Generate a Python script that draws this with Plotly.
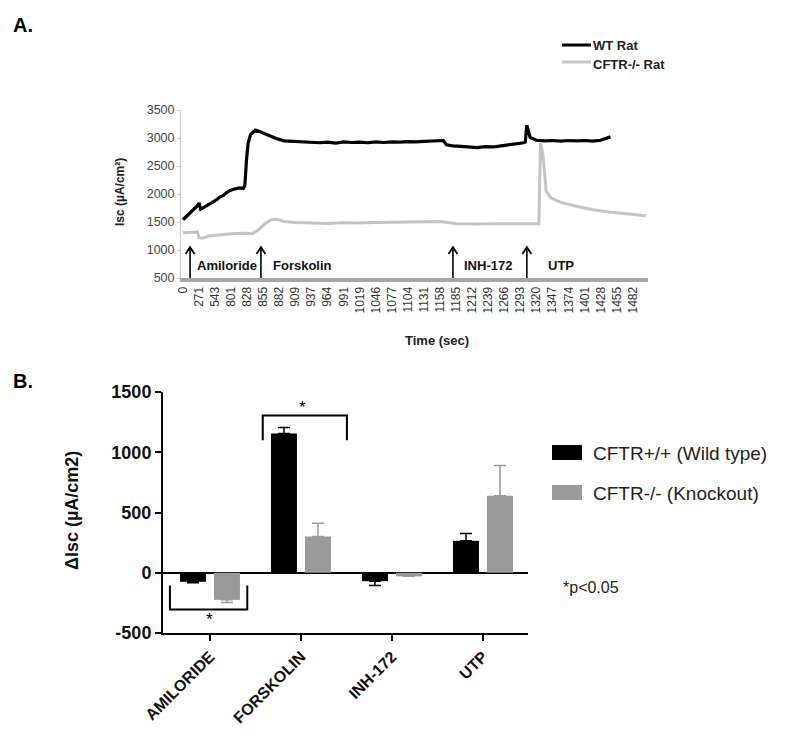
import plotly.graph_objects as go

# ---------------- Panel A data ----------------
time_labels = ["0", "271", "543", "801", "828", "855", "882", "909", "937", "964", "991",
               "1019", "1046", "1077", "1104", "1131", "1158", "1185", "1212", "1239",
               "1266", "1293", "1320", "1347", "1374", "1401", "1428", "1455", "1482"]

# sample position (index along the category axis) and Isc values
wt_idx = [0, 0.3, 0.6, 0.9, 1.0, 1.1, 1.3, 1.6, 1.8, 2.1, 2.3, 2.5, 2.7, 2.9, 3.1, 3.3, 3.5,
          3.75, 3.85, 3.95, 4.05, 4.2, 4.5, 4.8, 5.3, 5.8, 6.3, 7, 7.5, 8, 8.5, 9, 9.5, 10,
          10.5, 11, 11.5, 12, 12.5, 13, 13.5, 14, 14.5, 15, 15.6, 16.2, 16.4, 16.8, 17.3,
          17.8, 18.3, 18.8, 19.3, 19.8, 20.3, 20.8, 21.2, 21.3, 21.4, 21.6, 22, 22.5, 23,
          23.5, 24, 24.5, 25, 25.5, 26, 26.3, 26.6]
wt_isc = [1540, 1620, 1700, 1790, 1840, 1730, 1760, 1810, 1850, 1900, 1950, 1970, 2020,
          2060, 2080, 2100, 2110, 2100, 2150, 2600, 2900, 3060, 3140, 3110, 3050, 2990, 2950,
          2940, 2925, 2930, 2915, 2925, 2910, 2930, 2920, 2925, 2915, 2930, 2920, 2930, 2925,
          2935, 2930, 2940, 2945, 2955, 2880, 2860, 2850, 2840, 2830, 2845, 2840, 2860, 2875,
          2900, 2915, 2925, 3230, 3010, 2960, 2950, 2955, 2945, 2955, 2950, 2955, 2945, 2960,
          2990, 3020]

ko_idx = [0, 0.9, 1.0, 1.2, 1.6, 2.2, 3.0, 3.8, 4.3, 4.7, 5.1, 5.5, 5.8, 6.3, 7, 8, 9, 10,
          11, 12, 13, 14, 15, 16, 16.5, 17, 18, 19, 20, 21, 22.15, 22.25, 22.4, 22.6, 22.9,
          23.5, 24.5, 25.5, 26.5, 27.5, 28.8]
ko_isc = [1310, 1320, 1220, 1210, 1250, 1270, 1290, 1300, 1290, 1360, 1470, 1540, 1550, 1510,
          1490, 1480, 1475, 1485, 1480, 1490, 1495, 1500, 1505, 1510, 1490, 1470, 1465, 1470,
          1468, 1470, 1470, 2910, 2700, 2050, 1930, 1850, 1780, 1720, 1680, 1650, 1610]

events = ["Amiloride", "Forskolin", "INH-172", "UTP"]
event_idx = [0.44, 4.85, 16.8, 21.4]
event_label_idx = [0.72, 5.45, 17.35, 22.6]

# ---------------- Panel B data ----------------
treatments = ["AMILORIDE", "FORSKOLIN", "INH-172", "UTP"]
wt_delta = [-75, 1155, -70, 265]
wt_err = [8, 50, 35, 60]
ko_delta = [-225, 300, -30, 640]
ko_err = [22, 110, 0, 250]
b_ticks = [-500, 0, 500, 1000, 1500]

FONT = "Arial, Liberation Sans, sans-serif"
W, H = 800, 744
OFF = 8  # page body margin in the browser


def px(x):
    return (x - OFF) / W


def py(y):
    return 1 - (y - OFF) / H


fig = go.Figure()

# Panel A traces
fig.add_trace(go.Scatter(x=ko_idx, y=ko_isc, mode="lines", line=dict(color="#c4c4c4", width=3),
                         xaxis="x", yaxis="y", showlegend=False, name="CFTR-/- Rat"))
fig.add_trace(go.Scatter(x=wt_idx, y=wt_isc, mode="lines", line=dict(color="#000000", width=3.2),
                         xaxis="x", yaxis="y", showlegend=False, name="WT Rat"))


def split_err(vals, errs):
    plus = [e if v >= 0 else 0 for v, e in zip(vals, errs)]
    minus = [e if v < 0 else 0 for v, e in zip(vals, errs)]
    return plus, minus


wp, wm = split_err(wt_delta, wt_err)
kp, km = split_err(ko_delta, ko_err)
fig.add_trace(go.Bar(x=treatments, y=wt_delta, marker=dict(color="#000000", line=dict(width=0)),
                     error_y=dict(type="data", array=wp, arrayminus=wm, symmetric=False,
                                  color="#000000", thickness=1.5, width=6),
                     xaxis="x2", yaxis="y2", showlegend=False, name="CFTR+/+ (Wild type)"))
fig.add_trace(go.Bar(x=treatments, y=ko_delta, marker=dict(color="#9a9a9a", line=dict(width=0)),
                     error_y=dict(type="data", array=kp, arrayminus=km, symmetric=False,
                                  color="#9a9a9a", thickness=1.5, width=6),
                     xaxis="x2", yaxis="y2", showlegend=False, name="CFTR-/- (Knockout)"))

annotations = []
shapes = []

# Panel A arrows (shaft + open chevron head) and labels
for name, xi, xl in zip(events, event_idx, event_label_idx):
    shapes.append(dict(type="line", xref="x", yref="y", x0=xi, x1=xi, y0=500, y1=1045,
                       line=dict(color="#000", width=1.6)))
    shapes.append(dict(type="path", xref="x", yref="y",
                       path="M %.3f,930 L %.3f,1050 L %.3f,930" % (xi - 0.28, xi, xi + 0.28),
                       line=dict(color="#000", width=1.8)))
    annotations.append(dict(x=xl, y=730, xref="x", yref="y", text="<b>%s</b>" % name,
                            showarrow=False, xanchor="left", yanchor="middle",
                            font=dict(family=FONT, size=13, color="#111111")))

annotations += [
    dict(x=px(11), y=py(25), xref="paper", yref="paper", text="<b>A.</b>", showarrow=False,
         xanchor="left", yanchor="middle", font=dict(family=FONT, size=20, color="#000")),
    dict(x=px(11), y=py(381), xref="paper", yref="paper", text="<b>B.</b>", showarrow=False,
         xanchor="left", yanchor="middle", font=dict(family=FONT, size=20, color="#000")),
    dict(x=px(120), y=py(192), xref="paper", yref="paper", text="<b>Isc (µA/cm²)</b>",
         showarrow=False, textangle=-90, xanchor="center", yanchor="middle",
         font=dict(family=FONT, size=12, color="#222")),
    dict(x=px(437), y=py(340), xref="paper", yref="paper", text="<b>Time (sec)</b>",
         showarrow=False, xanchor="center", yanchor="middle",
         font=dict(family=FONT, size=13, color="#222")),
    dict(x=px(72), y=py(511), xref="paper", yref="paper", text="<b>ΔIsc (µA/cm2)</b>",
         showarrow=False, textangle=-90, xanchor="center", yanchor="middle",
         font=dict(family=FONT, size=18, color="#111")),
]

# Panel A legend
shapes += [
    dict(type="line", xref="paper", yref="paper", x0=px(562), x1=px(591), y0=py(45), y1=py(45),
         line=dict(color="#000", width=3)),
    dict(type="line", xref="paper", yref="paper", x0=px(562), x1=px(591), y0=py(62), y1=py(62),
         line=dict(color="#c4c4c4", width=3)),
]
annotations += [
    dict(x=px(591), y=py(46), xref="paper", yref="paper", text="<b>WT Rat</b>", showarrow=False,
         xanchor="left", yanchor="middle", font=dict(family=FONT, size=13, color="#222")),
    dict(x=px(591), y=py(64), xref="paper", yref="paper", text="<b>CFTR-/- Rat</b>", showarrow=False,
         xanchor="left", yanchor="middle", font=dict(family=FONT, size=13, color="#222")),
]

# Panel B legend
shapes += [
    dict(type="rect", xref="paper", yref="paper", x0=px(552), x1=px(582), y0=py(460), y1=py(445),
         fillcolor="#000", line=dict(width=0)),
    dict(type="rect", xref="paper", yref="paper", x0=px(552), x1=px(582), y0=py(500), y1=py(485),
         fillcolor="#9a9a9a", line=dict(width=0)),
]
annotations += [
    dict(x=px(591), y=py(453), xref="paper", yref="paper", text="CFTR+/+ (Wild type)", showarrow=False,
         xanchor="left", yanchor="middle", font=dict(family=FONT, size=19, color="#222")),
    dict(x=px(591), y=py(493), xref="paper", yref="paper", text="CFTR-/- (Knockout)", showarrow=False,
         xanchor="left", yanchor="middle", font=dict(family=FONT, size=19, color="#222")),
    dict(x=px(561), y=py(587), xref="paper", yref="paper", text="*p<0.05", showarrow=False,
         xanchor="left", yanchor="middle", font=dict(family=FONT, size=16, color="#222")),
]

# Significance brackets (panel B, category-index coordinates)
shapes += [
    dict(type="path", xref="x2", yref="y2", path="M -0.44,-105 L -0.44,-305 L 0.41,-305 L 0.41,-105",
         line=dict(color="#000", width=2)),
    dict(type="path", xref="x2", yref="y2", path="M 0.58,1100 L 0.58,1305 L 1.505,1305 L 1.505,1100",
         line=dict(color="#000", width=2)),
]
annotations += [
    dict(x=0.0, y=-390, xref="x2", yref="y2", text="*", showarrow=False,
         font=dict(family=FONT, size=17, color="#000")),
    dict(x=1.02, y=1370, xref="x2", yref="y2", text="*", showarrow=False,
         font=dict(family=FONT, size=17, color="#000")),
]

fig.update_layout(
    template="none",
    width=W, height=H, margin=dict(l=0, r=0, t=0, b=0, pad=0, autoexpand=False),
    paper_bgcolor="white", plot_bgcolor="white",
    font=dict(family=FONT),
    barmode="group", bargap=0.253, bargroupgap=0.235,
    xaxis=dict(domain=[px(181), px(648)], range=[-0.124, 28.94], anchor="y", automargin=False,
               tickmode="array", tickvals=list(range(len(time_labels))), ticktext=time_labels,
               tickangle=-90, tickfont=dict(family=FONT, size=12, color="#333"),
               showline=True, linecolor="#a6a6a6", linewidth=4, ticks="", showgrid=False,
               zeroline=False),
    yaxis=dict(domain=[py(278), py(110)], range=[500, 3500], anchor="x", automargin=False,
               tickvals=[500, 1000, 1500, 2000, 2500, 3000, 3500],
               tickfont=dict(family=FONT, size=12.5, color="#444"),
               showline=True, linecolor="#c8c8c8", linewidth=1, ticks="outside", ticklen=3,
               tickcolor="#c8c8c8", showgrid=False, zeroline=False),
    xaxis2=dict(domain=[px(163), px(528)], range=[-0.516, 3.495], anchor="y2", automargin=False,
                type="category", tickangle=-45, tickmode="array", tickvals=treatments,
                ticktext=["<b>%s</b>" % t for t in treatments],
                tickfont=dict(family=FONT, size=16, color="#111"),
                showline=True, linecolor="#000", linewidth=2, ticks="outside", ticklen=6,
                tickwidth=2, tickcolor="#000", showgrid=False, zeroline=False),
    yaxis2=dict(domain=[py(633), py(392)], range=[-500, 1500], anchor="x2", automargin=False,
                tickmode="array", tickvals=b_ticks, ticktext=["<b>%d</b>" % v for v in b_ticks],
                tickfont=dict(family=FONT, size=18, color="#111"),
                showline=True, linecolor="#000", linewidth=2, ticks="outside", ticklen=6,
                tickwidth=2, tickcolor="#000", showgrid=False,
                zeroline=True, zerolinecolor="#000", zerolinewidth=2),
    annotations=annotations, shapes=shapes,
)

fig.write_html("out.html")
